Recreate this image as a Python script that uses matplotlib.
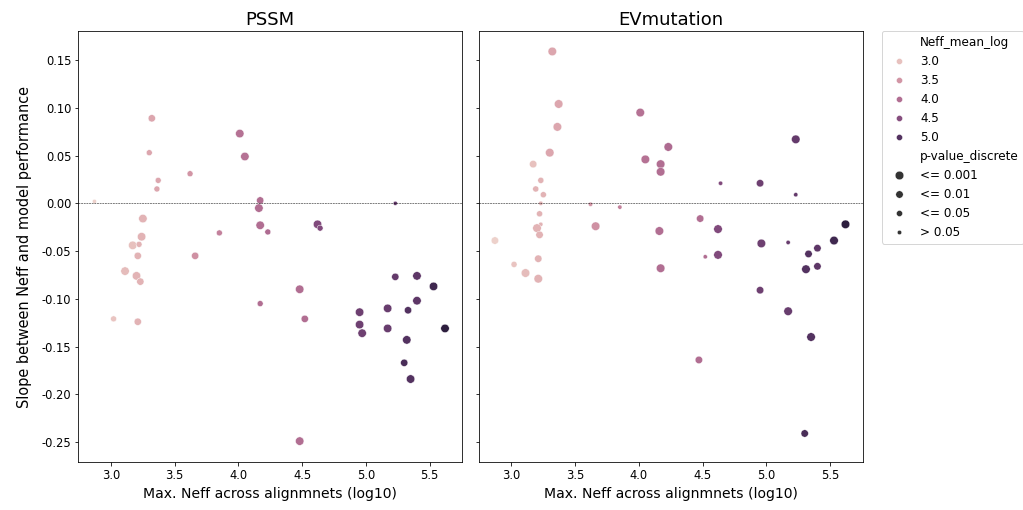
import numpy as np
import pandas as pd
import matplotlib
matplotlib.use("Agg")
import matplotlib.pyplot as plt
import matplotlib.ticker as mticker
import seaborn as sns

pvalue_levels = ["<= 0.001", "<= 0.01", "<= 0.05", "> 0.05"]

# PSSM panel
pssm_neff_max = [2.87, 3.32, 3.30, 3.37, 3.36, 3.62, 4.01, 4.05, 4.17, 4.16,
                 4.17, 4.23, 3.85, 3.25, 3.24, 3.17, 3.22, 3.21, 3.66, 3.11,
                 3.20, 3.23, 4.17, 3.02, 3.21, 4.62, 4.64, 5.23, 5.23, 5.40,
                 5.53, 5.40, 5.33, 5.17, 4.95, 4.95, 4.97, 5.17, 5.62, 5.32,
                 5.30, 5.35, 4.48, 4.52, 4.48]
pssm_slope = [0.002, 0.089, 0.053, 0.024, 0.015, 0.031, 0.073, 0.049, 0.003, -0.005,
              -0.023, -0.030, -0.031, -0.016, -0.035, -0.044, -0.043, -0.055, -0.055, -0.071,
              -0.076, -0.082, -0.105, -0.121, -0.124, -0.022, -0.026, 0.000, -0.077, -0.076,
              -0.087, -0.102, -0.112, -0.110, -0.114, -0.127, -0.136, -0.131, -0.131, -0.143,
              -0.167, -0.184, -0.090, -0.121, -0.249]
pssm_neff_mean = [2.80, 3.30, 3.30, 3.30, 3.30, 3.50, 3.95, 3.95, 4.00, 4.00,
                  4.00, 4.05, 3.75, 3.15, 3.15, 3.00, 3.15, 3.15, 3.55, 3.05,
                  3.15, 3.15, 4.00, 2.95, 3.15, 4.55, 4.55, 4.85, 4.85, 4.90,
                  5.20, 4.90, 5.00, 4.80, 4.75, 4.75, 4.75, 4.80, 5.40, 5.00,
                  5.10, 5.00, 4.00, 4.00, 4.00]
pssm_pvalue = [3, 1, 2, 2, 2, 2, 0, 0, 1, 0,
               0, 2, 2, 0, 0, 0, 2, 1, 1, 0,
               0, 1, 2, 2, 1, 0, 2, 3, 1, 0,
               0, 0, 1, 0, 0, 0, 0, 0, 0, 0,
               1, 0, 0, 1, 0]

# EVmutation panel
evm_neff_max = [3.32, 3.37, 3.36, 3.30, 3.17, 3.23, 3.19, 3.25, 3.23, 3.62,
                3.85, 4.01, 4.23, 4.05, 4.17, 4.17, 3.22, 3.23, 3.20, 3.22,
                3.66, 4.16, 2.87, 3.21, 3.02, 3.11, 3.21, 4.17, 4.64, 4.95,
                5.23, 5.23, 4.48, 4.62, 5.62, 5.53, 4.96, 5.17, 5.40, 5.33,
                4.52, 4.62, 5.31, 5.40, 4.95, 5.17, 5.35, 4.47, 5.30]
evm_slope = [0.159, 0.104, 0.080, 0.053, 0.041, 0.024, 0.015, 0.009, 0.000, -0.001,
             -0.004, 0.095, 0.059, 0.046, 0.041, 0.033, -0.011, -0.022, -0.026, -0.033,
             -0.024, -0.029, -0.039, -0.058, -0.064, -0.073, -0.079, -0.068, 0.021, 0.021,
             0.067, 0.009, -0.016, -0.027, -0.022, -0.039, -0.042, -0.041, -0.047, -0.053,
             -0.056, -0.054, -0.069, -0.066, -0.091, -0.113, -0.140, -0.164, -0.241]
evm_neff_mean = [3.30, 3.30, 3.30, 3.30, 3.00, 3.15, 3.15, 3.15, 3.15, 3.50,
                 3.75, 3.95, 4.05, 3.95, 4.00, 4.00, 3.15, 3.15, 3.15, 3.15,
                 3.55, 4.00, 2.80, 3.15, 2.95, 3.05, 3.15, 4.00, 4.55, 4.75,
                 4.85, 4.85, 4.00, 4.55, 5.40, 5.20, 4.75, 4.80, 4.90, 5.00,
                 4.00, 4.55, 5.00, 4.90, 4.75, 4.80, 5.00, 4.00, 5.10]
evm_pvalue = [0, 0, 0, 0, 1, 2, 2, 2, 3, 3,
              3, 0, 0, 0, 0, 0, 2, 3, 0, 1,
              0, 0, 1, 1, 2, 0, 0, 0, 3, 1,
              0, 3, 1, 0, 0, 0, 0, 3, 1, 1,
              3, 0, 0, 1, 1, 0, 0, 1, 1]


def make_df(neff_max, slope, neff_mean, pvalue):
    return pd.DataFrame({
        "Neff_max_log": neff_max,
        "slope": slope,
        "Neff_mean_log": neff_mean,
        "p-value_discrete": [pvalue_levels[i] for i in pvalue],
    })


panels = [("PSSM", make_df(pssm_neff_max, pssm_slope, pssm_neff_mean, pssm_pvalue)),
          ("EVmutation", make_df(evm_neff_max, evm_slope, evm_neff_mean, evm_pvalue))]

plt.rcParams["xtick.labelsize"] = 11.5
plt.rcParams["ytick.labelsize"] = 11.5

fig, axes = plt.subplots(1, 2, figsize=(1023 / 72, 510 / 72), dpi=72, sharey=True)
fig.subplots_adjust(left=0.0765, right=0.8433, top=0.9392, bottom=0.0935, wspace=0.043)

for i, (name, df) in enumerate(panels):
    ax = axes[i]
    sns.scatterplot(data=df, x="Neff_max_log", y="slope", hue="Neff_mean_log",
                    size="p-value_discrete", size_order=pvalue_levels,
                    hue_norm=(2.8, 5.4), ax=ax, legend=(i == 1))
    ax.axhline(0, color="black", linestyle="--", linewidth=0.5)
    ax.set_title(name, fontsize=18)
    ax.set_xlabel("Max. Neff across alignmnets (log10)", fontsize=14, labelpad=5)
    ax.set_xlim(2.743, 5.755)
    ax.set_ylim(-0.2712, 0.1804)
    ax.yaxis.set_major_locator(mticker.MultipleLocator(0.05))
    ax.yaxis.set_major_formatter(mticker.FormatStrFormatter("%.2f"))

axes[0].set_ylabel("Slope between Neff and model performance", fontsize=14.5, labelpad=10)
axes[1].set_ylabel("")
sns.move_legend(axes[1], "upper left", bbox_to_anchor=(1.05, 1), borderaxespad=0,
                fontsize=12)

fig.savefig("out.png", dpi=72)
